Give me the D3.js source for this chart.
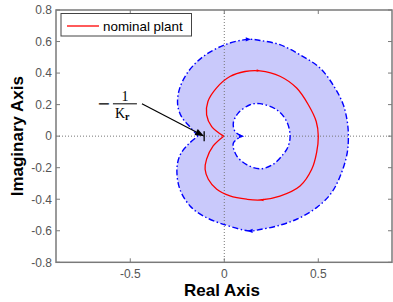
<!DOCTYPE html>
<html><head><meta charset="utf-8">
<script src="https://cdn.jsdelivr.net/npm/d3@7"></script>
<style>body{margin:0;background:#fff}svg{display:block}</style>
</head><body>
<script>
// ---- data ----
const xTicks = [-0.5, 0, 0.5];
const yTicks = [-0.8, -0.6, -0.4, -0.2, 0, 0.2, 0.4, 0.6, 0.8];
const legendLabel = "nominal plant";
const xLabel = "Real Axis";
const yLabel = "Imaginary Axis";
// nominal plant Nyquist curve [re, im]
const nominal = [
 [-0.003,0],[-0.067,0.061],[-0.094,0.135],[-0.087,0.22],[-0.042,0.305],[0.03,0.378],
 [0.11,0.41],[0.19,0.414],[0.296,0.38],[0.385,0.305],[0.447,0.199],[0.489,0.093],
 [0.5,0],[0.491,-0.104],[0.465,-0.21],[0.403,-0.316],[0.296,-0.38],[0.19,-0.405],
 [0.119,-0.4],[0.03,-0.379],[-0.04,-0.337],[-0.085,-0.273],[-0.102,-0.21],
 [-0.094,-0.146],[-0.059,-0.062],[-0.003,0]
];
// outer boundary of uncertainty region
const outer = [
 [-0.14,0],[-0.182,0.058],[-0.226,0.12],[-0.248,0.2],[-0.238,0.3],[-0.191,0.41],
 [-0.112,0.505],[0.004,0.58],[0.128,0.614],[0.19,0.607],[0.296,0.58],[0.403,0.516],
 [0.509,0.432],[0.589,0.305],[0.633,0.199],[0.654,0.093],[0.66,0],[0.654,-0.104],
 [0.624,-0.231],[0.571,-0.358],[0.491,-0.453],[0.385,-0.527],[0.279,-0.57],
 [0.19,-0.592],[0.137,-0.601],[-0.005,-0.559],[-0.112,-0.506],[-0.182,-0.443],
 [-0.236,-0.337],[-0.252,-0.21],[-0.235,-0.12],[-0.19,-0.05],[-0.14,0]
];
// inner boundary of uncertainty region
const inner = [
 [0.092,0],[0.057,0.03],[0.048,0.083],[0.074,0.146],[0.137,0.199],[0.19,0.206],
 [0.279,0.167],[0.332,0.093],[0.35,0],[0.338,-0.07],[0.314,-0.114],[0.261,-0.178],
 [0.19,-0.207],[0.119,-0.18],[0.066,-0.125],[0.048,-0.045],[0.092,0]
];
// direction markers [re, im, angle in degrees]
const blueMarkers = [[0.128,0.614,0],[0.137,-0.601,180],[0.092,0,0]];
const redMarkers = [[0.181,0.416,0],[0.2,-0.405,180]];
// annotation: point -1/Kr and label anchor
const kPoint = [-0.107, 0];
const kLabelAnchor = [-0.438, 0.205];

// ---- layout ----
const W = 393, H = 302;
const m = {l:56, t:10, r:392, b:262.3};
const x = d3.scaleLinear().domain([-0.895, 0.892]).range([m.l, m.r]);
const y = d3.scaleLinear().domain([-0.8, 0.8]).range([m.b, m.t]);

const svg = d3.select("body").append("svg").attr("width", W).attr("height", H);
const axisCol = "#7a7a7a", labCol = "#555";
const font = "Liberation Sans, Arial, sans-serif";

const line = d3.line().x(d => x(d[0])).y(d => y(d[1])).curve(d3.curveCatmullRom.alpha(0.5));

// fill between outer and inner
svg.append("path")
  .attr("d", line(outer) + line(inner))
  .attr("fill", "#c9c9fb").attr("fill-rule", "evenodd").attr("stroke", "none");

// dotted zero lines
svg.append("line").attr("x1", m.l).attr("x2", m.r).attr("y1", y(0)).attr("y2", y(0))
  .attr("stroke", "#777").attr("stroke-width", 1).attr("stroke-dasharray", "1,2");
svg.append("line").attr("x1", x(0)).attr("x2", x(0)).attr("y1", m.t).attr("y2", m.b)
  .attr("stroke", "#777").attr("stroke-width", 1).attr("stroke-dasharray", "1,2");

// boundaries
[outer, inner].forEach(c => {
  svg.append("path").attr("d", line(c)).attr("fill", "none")
    .attr("stroke", "#0000ff").attr("stroke-width", 1.4)
    .attr("stroke-dasharray", "6,2.5,1.5,2.5");
});
svg.append("path").attr("d", line(nominal)).attr("fill", "none")
  .attr("stroke", "#ff0000").attr("stroke-width", 1.3);

// direction markers
function tri(sel, data, col, s) {
  sel.selectAll(null).data(data).enter().append("path")
    .attr("d", `M${s},0L${-s},${-s*0.8}L${-s},${s*0.8}Z`)
    .attr("transform", d => `translate(${x(d[0])},${y(d[1])}) rotate(${d[2]})`)
    .attr("fill", col).attr("stroke", "none");
}
tri(svg, blueMarkers, "#0000ff", 2.6);
tri(svg, redMarkers, "#ff0000", 1.6);

// box + ticks
svg.append("rect").attr("x", m.l).attr("y", m.t).attr("width", m.r - m.l).attr("height", m.b - m.t)
  .attr("fill", "none").attr("stroke", axisCol).attr("stroke-width", 1.5);
const tl = 4;
xTicks.forEach(v => {
  svg.append("line").attr("x1", x(v)).attr("x2", x(v)).attr("y1", m.b).attr("y2", m.b - tl).attr("stroke", axisCol);
  svg.append("line").attr("x1", x(v)).attr("x2", x(v)).attr("y1", m.t).attr("y2", m.t + tl).attr("stroke", axisCol);
  svg.append("text").attr("x", x(v)).attr("y", m.b + 16).attr("text-anchor", "middle")
    .attr("font-family", font).attr("font-size", 12).attr("fill", labCol).text(v === 0 ? "0" : String(v));
});
yTicks.forEach(v => {
  svg.append("line").attr("x1", m.l).attr("x2", m.l + tl).attr("y1", y(v)).attr("y2", y(v)).attr("stroke", axisCol);
  svg.append("line").attr("x1", m.r).attr("x2", m.r - tl).attr("y1", y(v)).attr("y2", y(v)).attr("stroke", axisCol);
  svg.append("text").attr("x", m.l - 4).attr("y", y(v) + 4.3).attr("text-anchor", "end")
    .attr("font-family", font).attr("font-size", 12).attr("fill", labCol).text(v === 0 ? "0" : String(v));
});

// axis labels
svg.append("text").attr("x", 222).attr("y", 296).attr("text-anchor", "middle")
  .attr("font-family", font).attr("font-weight", "bold").attr("font-size", 17).attr("fill", "#000").text(xLabel);
svg.append("text").attr("transform", `translate(22.5,${(m.t + m.b) / 2}) rotate(-90)`).attr("text-anchor", "middle")
  .attr("font-family", font).attr("font-weight", "bold").attr("font-size", 17).attr("fill", "#000").text(yLabel);

// legend
svg.append("rect").attr("x", 61).attr("y", 13.5).attr("width", 130.5).attr("height", 22.5)
  .attr("fill", "#fff").attr("stroke", "#444").attr("stroke-width", 1);
svg.append("line").attr("x1", 67).attr("x2", 99).attr("y1", 26).attr("y2", 26)
  .attr("stroke", "#ff0000").attr("stroke-width", 1.3);
svg.append("text").attr("x", 103).attr("y", 30.5).attr("font-family", font).attr("font-size", 13.4)
  .attr("fill", "#000").text(legendLabel);

// annotation arrow
const ax0 = x(kLabelAnchor[0]), ay0 = y(kLabelAnchor[1]);
const ax1 = x(kPoint[0]), ay1 = y(kPoint[1]);
const ang = Math.atan2(ay1 - ay0, ax1 - ax0);
const hl = 9, hw = 3.5;
svg.append("line").attr("x1", ax0).attr("y1", ay0)
  .attr("x2", ax1 - hl * Math.cos(ang)).attr("y2", ay1 - hl * Math.sin(ang))
  .attr("stroke", "#000").attr("stroke-width", 1.2);
svg.append("path")
  .attr("d", `M0,0L${-hl},${-hw}L${-hl},${hw}Z`)
  .attr("transform", `translate(${ax1},${ay1}) rotate(${ang * 180 / Math.PI})`)
  .attr("fill", "#000");
svg.append("line").attr("x1", ax1).attr("x2", ax1).attr("y1", ay1 - 5).attr("y2", ay1 + 5)
  .attr("stroke", "#000").attr("stroke-width", 1.3);

// label -1/Kr
const serif = "DejaVu Serif, serif";
const ly = ay0;
svg.append("text").attr("x", ax0 - 45).attr("y", ly + 5).attr("font-family", serif)
  .attr("font-size", 16).attr("fill", "#000").text("−");
svg.append("line").attr("x1", ax0 - 29).attr("x2", ax0 - 5).attr("y1", ly).attr("y2", ly)
  .attr("stroke", "#000").attr("stroke-width", 1);
svg.append("text").attr("x", ax0 - 17).attr("y", ly - 3).attr("text-anchor", "middle")
  .attr("font-family", "Liberation Serif, serif").attr("font-size", 14).attr("fill", "#000").text("1");
const kt = svg.append("text").attr("x", ax0 - 27).attr("y", ly + 14)
  .attr("font-family", "Liberation Serif, serif").attr("font-size", 14).attr("fill", "#000");
kt.append("tspan").text("K");
kt.append("tspan").attr("dy", 2).attr("font-size", 10).attr("font-weight", "bold").text("r");
</script>
</body></html>
